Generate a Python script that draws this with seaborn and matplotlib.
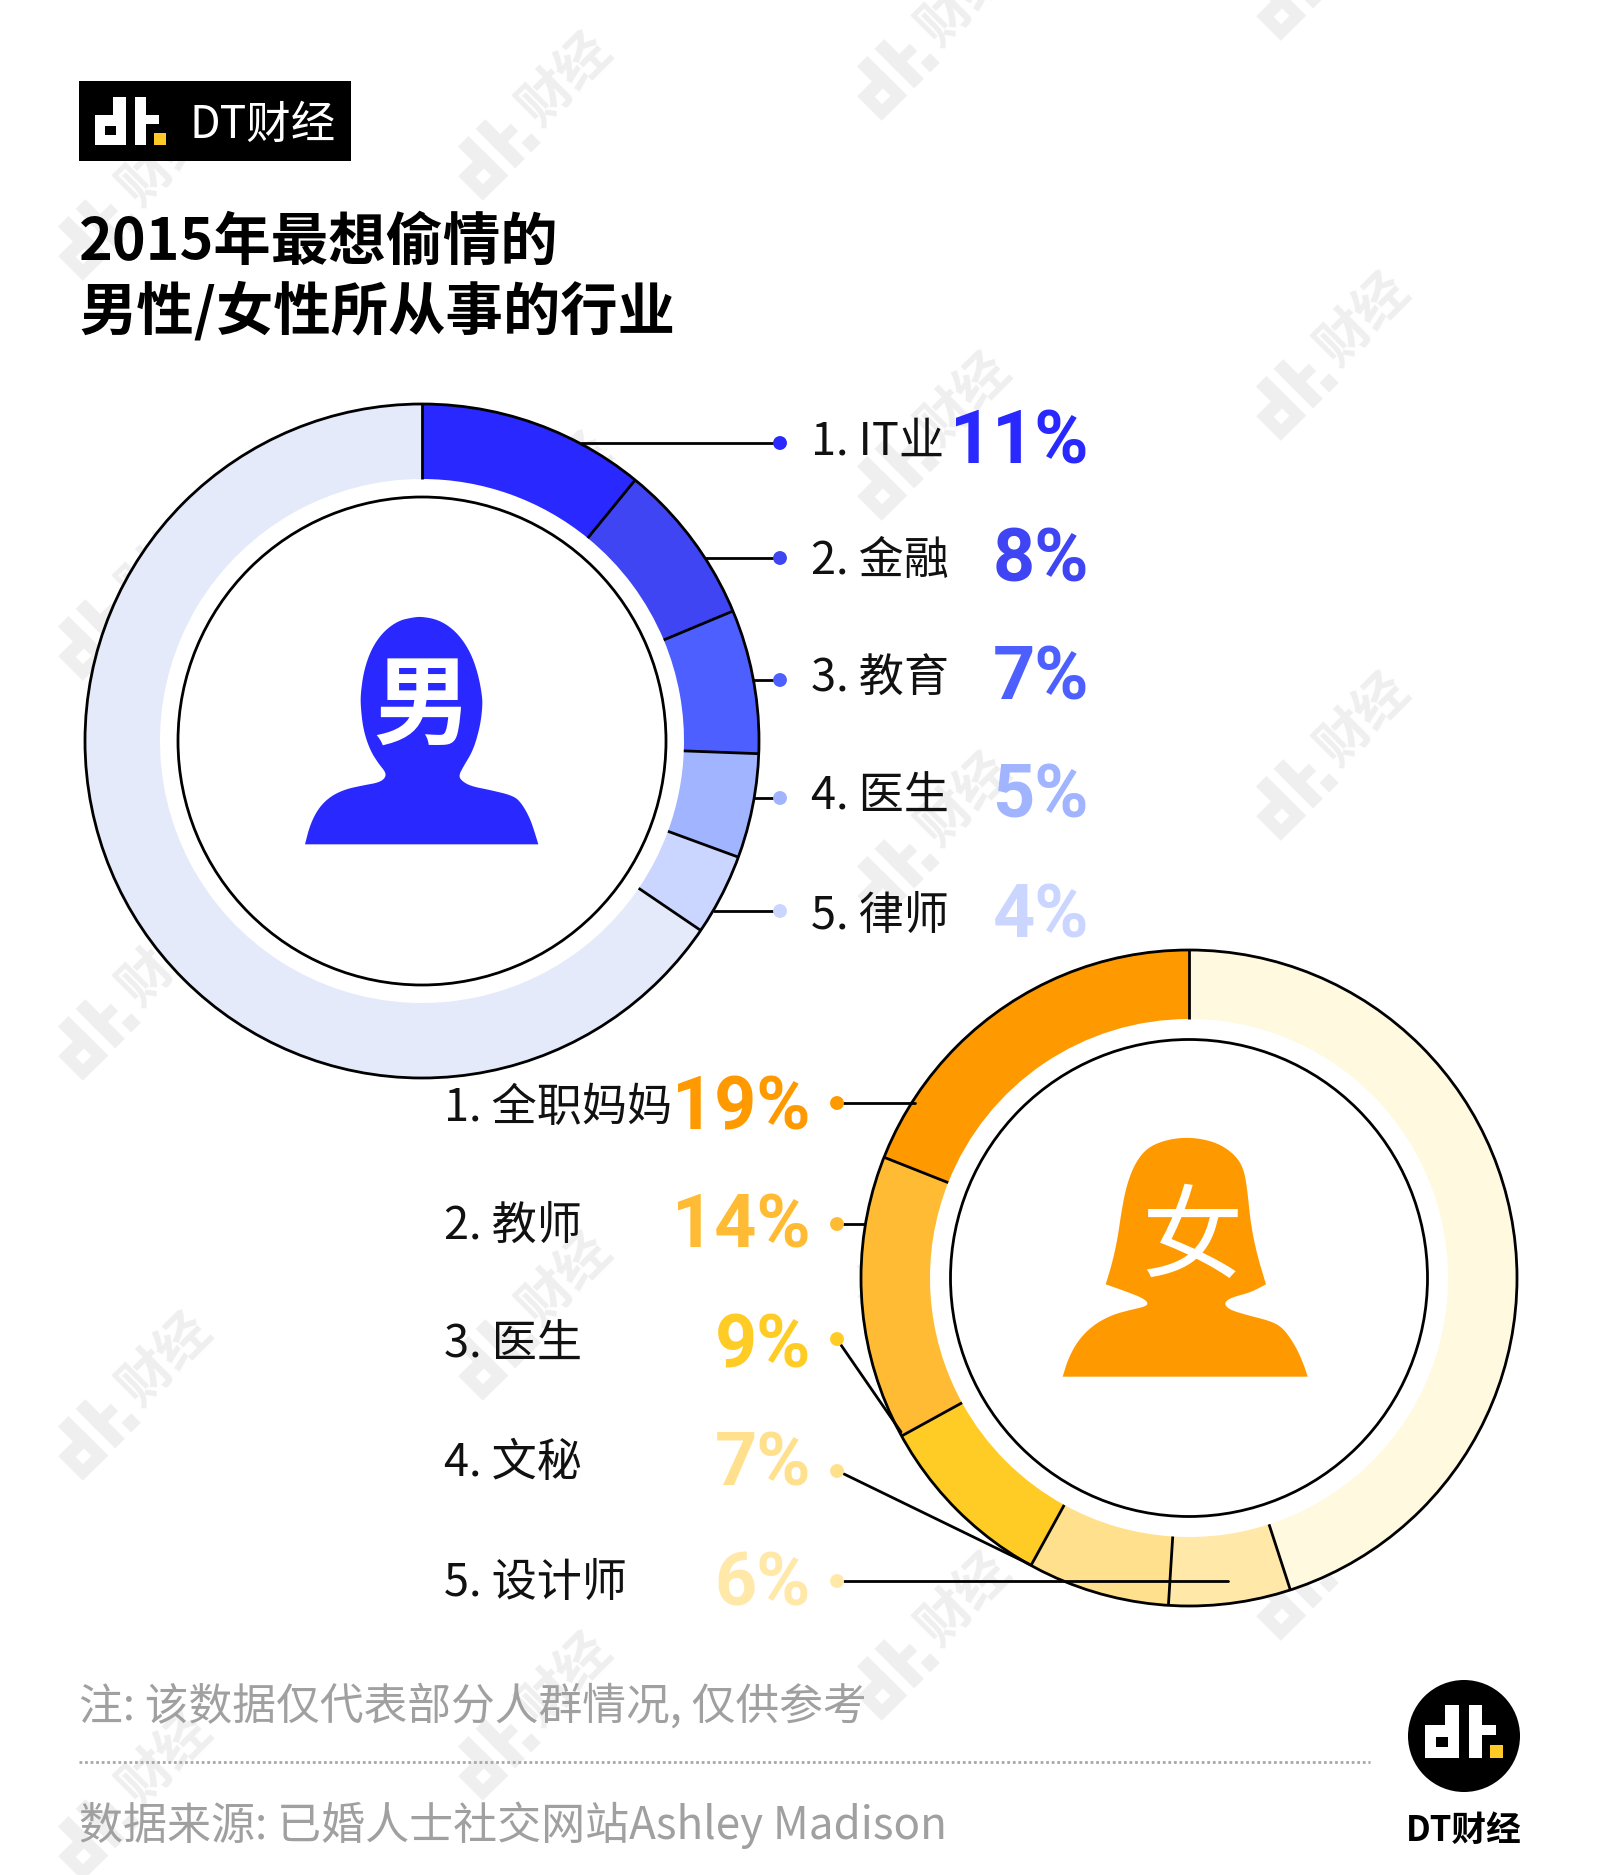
import numpy as np
import matplotlib
matplotlib.use("Agg")
import matplotlib.pyplot as plt
import seaborn as sns
from matplotlib.patches import Rectangle, Polygon, Circle
from matplotlib.transforms import Affine2D

# data
male_jobs = ["1. IT业", "2. 金融", "3. 教育", "4. 医生", "5. 律师"]
male_pct = [10.9, 7.8, 6.9, 5.0, 3.9]
male_colors = ["#2828FF", "#3F45F2", "#4D60FF", "#A0B4FF", "#CAD6FF"]
male_rest_color = "#E5EAFB"

female_jobs = ["1. 全职妈妈", "2. 教师", "3. 医生", "4. 文秘", "5. 设计师"]
female_pct = [19, 14, 9, 7, 6]
female_colors = ["#FF9900", "#FFBB33", "#FFCC26", "#FFE08C", "#FFE8A8"]
female_rest_color = "#FFF9E0"

title_lines = ["2015年最想偷情的", "男性/女性所从事的行业"]
note_text = "注: 该数据仅代表部分人群情况, 仅供参考"
source_text = "数据来源: 已婚人士社交网站Ashley Madison"

W, H = 1601, 1875

sns.set_theme(style="white")
plt.rcParams["font.family"] = ["Noto Sans CJK SC", "DejaVu Sans"]

fig = plt.figure(figsize=(W / 100, H / 100), dpi=100, facecolor="white")

# page axes in pixel coords, y pointing down
ax = fig.add_axes([0, 0, 1, 1], zorder=2)
ax.patch.set_alpha(0)
YELLOW = "#FFC926"
LINE_W = 2.0


def chaikin(pts, n=3):
    pts = np.array(pts, dtype=float)
    for _ in range(n):
        q = 0.75 * pts[:-1] + 0.25 * pts[1:]
        r = 0.25 * pts[:-1] + 0.75 * pts[1:]
        mid = np.empty((len(q) * 2, 2))
        mid[0::2] = q
        mid[1::2] = r
        pts = np.vstack([pts[:1], mid, pts[-1:]])
    return pts


def dt_logo(target, x, y, w, h, fg="white", dot=YELLOW, zorder=5, angle=0, pivot=None):
    # logo blocks in 0-138 x 0-145 units, drawn through the page axes
    blocks = [
        (0, 55, 60, 90), (35, 0, 25, 145),
        (77, 0, 23, 145), (77, 55, 48, 27),
    ]
    tr = target.transData
    if angle:
        tr = Affine2D().rotate_deg_around(pivot[0], pivot[1], angle) + tr
    sx, sy = w / 138, h / 145
    for bx, by, bw, bh in blocks:
        target.add_patch(Rectangle((x + bx * sx, y + by * sy), bw * sx, bh * sy,
                                   fc=fg, ec="none", zorder=zorder, transform=tr))
    hole = "black" if fg == "white" else "white"
    target.add_patch(Rectangle((x + 20 * sx, y + 88 * sy), 20 * sx, 27 * sy,
                               fc=hole, ec="none", zorder=zorder + 0.1, transform=tr))
    target.add_patch(Rectangle((x + 115 * sx, y + 110 * sy), 23 * sx, 35 * sy,
                               fc=dot, ec="none", zorder=zorder + 0.1, transform=tr))


def donut(cx, cy, r_out, r_in, r_line, values, colors, rest_color, counter):
    # each ring gets its own axes, placed in pixels, unit radius
    pad = 1.02
    size = r_out * pad * 2
    dax = fig.add_axes([(cx - size / 2) / W, 1 - (cy + size / 2) / H, size / W, size / H], zorder=1)
    vals = list(values) + [100 - sum(values)]
    cols = list(colors) + [rest_color]
    # white disc hides the watermark behind the ring
    dax.add_patch(Circle((0, 0), 1, fc="white", ec="none", zorder=0))
    dax.pie(vals, colors=cols, startangle=90, counterclock=counter, radius=1,
            wedgeprops=dict(width=1 - r_in / r_out, linewidth=0, zorder=1))
    dax.set_xlim(-pad, pad)
    dax.set_ylim(-pad, pad)
    dax.add_patch(Circle((0, 0), 1, fc="none", ec="black", lw=LINE_W, zorder=2))
    dax.add_patch(Circle((0, 0), r_line / r_out, fc="none", ec="black", lw=LINE_W, zorder=2))
    sign = 1 if counter else -1
    ang = np.radians(90 + sign * np.cumsum([0] + vals[:-1]) * 3.6)
    for a in ang:
        dax.plot([r_in / r_out * np.cos(a), np.cos(a)], [r_in / r_out * np.sin(a), np.sin(a)],
                 color="black", lw=LINE_W, solid_capstyle="butt", zorder=2)
    dax.axis("off")


donut(422, 741, 337, 262, 244, male_pct, male_colors, male_rest_color, False)
donut(1189, 1278, 328, 259, 238.5, female_pct, female_colors, female_rest_color, True)

# watermark, goes under everything
wax = fig.add_axes([0, 0, 1, 1], zorder=0)
wax.set_xlim(0, W)
wax.set_ylim(H, 0)
wax.axis("off")
for col, x0 in enumerate([132, 532, 931, 1330]):
    for row in range(-1, 6):
        y0 = 194 - col * 80 + row * 400
        if y0 < -70 or y0 > H + 70:
            continue
        lx, ly = x0 - 40, y0 + 38
        dt_logo(wax, lx - 41, ly - 28, 82, 56, fg="#EFEFEF", dot="#EFEFEF", zorder=1, angle=-45, pivot=(lx, ly))
        wax.text(x0 + 33, y0 - 35, "财经", rotation=45, rotation_mode="anchor", ha="center", va="center",
                 fontsize=38, color="#EFEFEF", fontweight="bold", zorder=1)

# header badge
ax.add_patch(Rectangle((79, 81), 272, 80, fc="black", ec="none"))
dt_logo(ax, 95, 97, 71, 48)
ax.text(189, 125, "DT财经", color="white", fontsize=32, va="center", ha="left")

for line, yy in zip(title_lines, [243, 312]):
    ax.text(79, yy, line, fontsize=41.3, color="black", fontweight="bold", va="center", ha="left")

# male leaders and labels
male_dot_y = [443, 558, 680, 798, 911]
male_text_y = [442, 561, 679, 797, 916]
male_line_x0 = [581, 706, 753, 755, 714]
for x0, dy in zip(male_line_x0, male_dot_y):
    ax.plot([x0, 780], [dy, dy], color="black", lw=LINE_W, zorder=1)
sns.scatterplot(x=[780] * 5, y=male_dot_y, hue=male_jobs, palette=male_colors, s=100, linewidth=0,
                legend=False, ax=ax, zorder=4)
for job, pct, col, ty in zip(male_jobs, male_pct, male_colors, male_text_y):
    ax.text(811, ty, job, fontsize=32.5, color="#111111", va="center", ha="left")
    ax.text(1089, ty + 1, f"{pct:.0f}%", fontsize=53, color=col, fontweight="bold", family="Roboto",
            va="center", ha="right")

# female leaders and labels
female_dot_y = [1103, 1224, 1339, 1471, 1581]
female_text_y = [1108, 1226, 1345, 1463, 1583]
ax.plot([843, 915], [1103, 1103], color="black", lw=LINE_W, zorder=1)
ax.plot([843, 864], [1224, 1224], color="black", lw=LINE_W, zorder=1)
ax.plot([841, 901], [1345, 1432], color="black", lw=LINE_W, zorder=3)
ax.plot([844, 1031], [1474, 1565], color="black", lw=LINE_W, zorder=3)
ax.plot([844, 1228], [1581, 1581], color="black", lw=LINE_W, zorder=3)
sns.scatterplot(x=[837] * 5, y=female_dot_y, hue=female_jobs, palette=female_colors, s=100, linewidth=0,
                legend=False, ax=ax, zorder=4)
for job, pct, col, ty in zip(female_jobs, female_pct, female_colors, female_text_y):
    ax.text(444, ty, job, fontsize=32.5, color="#111111", va="center", ha="left")
    ax.text(811, ty + 2, f"{pct}%", fontsize=53, color=col, fontweight="bold", family="Roboto",
            va="center", ha="right")

# silhouettes, traced in a 300px box from the picture
male_outline = [(165, 793), (180, 735), (205, 685), (240, 650), (285, 628), (340, 616), (385, 608), (405, 595),
                (408, 578), (385, 550), (360, 510), (340, 450), (332, 380), (332, 340), (342, 270), (365, 205),
                (400, 155), (445, 122), (490, 112), (515, 110), (560, 118), (600, 140), (635, 175), (665, 225),
                (685, 285), (697, 350), (697, 385), (690, 440), (670, 510), (640, 560), (627, 585), (632, 600),
                (660, 618), (720, 630), (790, 647), (815, 670), (840, 715), (855, 760), (865, 793)]
female_outline = [(68, 800), (85, 745), (115, 690), (160, 645), (215, 615), (270, 600), (315, 590), (325, 580),
                  (310, 565), (260, 545), (197, 523), (197, 523), (215, 465), (232, 390), (245, 300), (260, 225),
                  (285, 160), (320, 115), (370, 92), (430, 82), (490, 87), (545, 105), (590, 140), (612, 180),
                  (622, 240), (632, 340), (650, 430), (678, 523), (678, 523), (630, 548), (575, 562), (552, 578),
                  (565, 598), (620, 615), (695, 634), (730, 655), (765, 705), (790, 760), (803, 800)]
ax.add_patch(Polygon(chaikin(male_outline) / 3 + [250, 580], closed=True, fc="#2828FF", ec="none"))
ax.add_patch(Polygon(chaikin(female_outline) / 3 + [1040, 1110], closed=True, fc="#FF9900", ec="none"))
ax.text(422, 707, "男", color="white", fontsize=70, va="center", ha="center", fontweight="bold")
ax.text(1192, 1241, "女", color="white", fontsize=73, va="center", ha="center")

# footer
ax.text(79, 1707, note_text, fontsize=31.5, color="#A0A0A0", va="center", ha="left", fontweight="light")
ax.plot([79, 1370], [1762, 1762], color="#A8A8A8", lw=2, ls=(0, (1, 1)))
ax.text(79, 1825, source_text, fontsize=31.7, color="#A0A0A0", va="center", ha="left", fontweight="light")
ax.add_patch(Circle((1464, 1736), 56, fc="black", ec="none"))
dt_logo(ax, 1425, 1705, 78, 53)
ax.text(1464, 1830, "DT财经", fontsize=25, color="black", va="center", ha="center", fontweight="bold")

ax.set_xlim(0, W)
ax.set_ylim(H, 0)
ax.axis("off")

fig.savefig("out.png", dpi=100, facecolor="white")
